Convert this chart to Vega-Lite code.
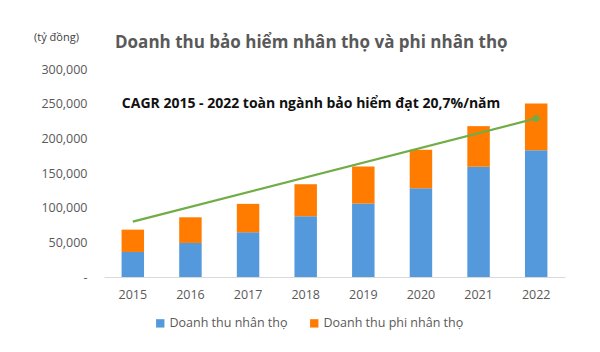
{
  "$schema": "https://vega.github.io/schema/vega-lite/v6.json",
  "width": 461,
  "height": 208,
  "autosize": {"type": "none"},
  "padding": {"left": 104, "top": 69, "right": 35, "bottom": 75},
  "background": "white",
  "config": {
    "font": "Open Sans",
    "view": {"stroke": null}
  },
  "title": {
    "text": "Doanh thu bảo hiểm nhân thọ và phi nhân thọ",
    "anchor": "start",
    "frame": "group",
    "dx": 11,
    "offset": -21,
    "fontSize": 17,
    "fontWeight": "bold",
    "color": "#595959",
    "font": "Open Sans"
  },
  "datasets": {
    "bars": [
      {"year": "2015", "type": "Doanh thu nhân thọ", "value": 36100},
      {"year": "2015", "type": "Doanh thu phi nhân thọ", "value": 32200},
      {"year": "2016", "type": "Doanh thu nhân thọ", "value": 49100},
      {"year": "2016", "type": "Doanh thu phi nhân thọ", "value": 37000},
      {"year": "2017", "type": "Doanh thu nhân thọ", "value": 64400},
      {"year": "2017", "type": "Doanh thu phi nhân thọ", "value": 41100},
      {"year": "2018", "type": "Doanh thu nhân thọ", "value": 87600},
      {"year": "2018", "type": "Doanh thu phi nhân thọ", "value": 46200},
      {"year": "2019", "type": "Doanh thu nhân thọ", "value": 105900},
      {"year": "2019", "type": "Doanh thu phi nhân thọ", "value": 53500},
      {"year": "2020", "type": "Doanh thu nhân thọ", "value": 128000},
      {"year": "2020", "type": "Doanh thu phi nhân thọ", "value": 55500},
      {"year": "2021", "type": "Doanh thu nhân thọ", "value": 159000},
      {"year": "2021", "type": "Doanh thu phi nhân thọ", "value": 58600},
      {"year": "2022", "type": "Doanh thu nhân thọ", "value": 182900},
      {"year": "2022", "type": "Doanh thu phi nhân thọ", "value": 67500}
    ],
    "trend": [
      {"year": "2015", "value": 79900},
      {"year": "2022", "value": 228700}
    ],
    "note": [
      {"year": "2015", "value": 250000, "label": "CAGR 2015 - 2022 toàn ngành bảo hiểm  đạt 20,7%/năm"}
    ]
  },
  "layer": [
    {
      "data": {"name": "bars"},
      "mark": {"type": "bar"},
      "encoding": {
        "x": {
          "field": "year",
          "type": "ordinal",
          "scale": {"paddingInner": 0.61, "paddingOuter": 0.305},
          "axis": {
            "title": null,
            "labelAngle": 0,
            "labelFontSize": 12.5,
            "labelColor": "#595959",
            "labelPadding": 11,
            "ticks": false,
            "domainColor": "#d9d9d9",
            "domainWidth": 1
          }
        },
        "y": {
          "field": "value",
          "type": "quantitative",
          "aggregate": "sum",
          "stack": "zero",
          "title": "(tỷ đồng)",
          "scale": {"domain": [0, 300000], "nice": false},
          "axis": {
            "values": [0, 50000, 100000, 150000, 200000, 250000, 300000],
            "labelExpr": "datum.value == 0 ? '-' : format(datum.value, ',')",
            "labelOverlap": false,
            "labelFontSize": 12.5,
            "labelColor": "#595959",
            "labelPadding": 17,
            "ticks": false,
            "domain": false,
            "grid": false,
            "titleAngle": 0,
            "titleX": -48,
            "titleY": -32,
            "titleAlign": "center",
            "titleBaseline": "middle",
            "titleFontSize": 11,
            "titleFontWeight": "normal",
            "titleColor": "#404040"
          }
        },
        "color": {
          "field": "type",
          "type": "nominal",
          "scale": {
            "domain": ["Doanh thu nhân thọ", "Doanh thu phi nhân thọ"],
            "range": ["#5599DD", "#FF7C00"]
          },
          "legend": {
            "title": null,
            "orient": "none",
            "direction": "horizontal",
            "legendX": 50,
            "legendY": 248,
            "symbolType": "square",
            "symbolSize": 70,
            "symbolStrokeWidth": 0,
            "labelFontSize": 12.5,
            "labelColor": "#595959",
            "labelOffset": 3,
            "columnPadding": 20
          }
        },
        "order": {"field": "type", "sort": "ascending"}
      }
    },
    {
      "data": {"name": "trend"},
      "mark": {"type": "line", "color": "#70AD47", "strokeWidth": 2.2},
      "encoding": {
        "x": {"field": "year", "type": "ordinal", "title": null,
          "axis": {
            "title": null,
            "labelAngle": 0,
            "labelFontSize": 12.5,
            "labelColor": "#595959",
            "labelPadding": 11,
            "ticks": false,
            "domainColor": "#d9d9d9",
            "domainWidth": 1
          }},
        "y": {"field": "value", "type": "quantitative", "title": "(tỷ đồng)",
          "axis": {
            "values": [0, 50000, 100000, 150000, 200000, 250000, 300000],
            "labelExpr": "datum.value == 0 ? '-' : format(datum.value, ',')",
            "labelOverlap": false,
            "labelFontSize": 12.5,
            "labelColor": "#595959",
            "labelPadding": 17,
            "ticks": false,
            "domain": false,
            "grid": false,
            "titleAngle": 0,
            "titleX": -48,
            "titleY": -32,
            "titleAlign": "center",
            "titleBaseline": "middle",
            "titleFontSize": 11,
            "titleFontWeight": "normal",
            "titleColor": "#404040"
          }}
      }
    },
    {
      "data": {"name": "trend"},
      "transform": [{"filter": "datum.year == '2022'"}],
      "mark": {"type": "point", "filled": true, "size": 45, "color": "#70AD47", "opacity": 1},
      "encoding": {
        "x": {"field": "year", "type": "ordinal", "title": null,
          "axis": {
            "title": null,
            "labelAngle": 0,
            "labelFontSize": 12.5,
            "labelColor": "#595959",
            "labelPadding": 11,
            "ticks": false,
            "domainColor": "#d9d9d9",
            "domainWidth": 1
          }},
        "y": {"field": "value", "type": "quantitative", "title": "(tỷ đồng)",
          "axis": {
            "values": [0, 50000, 100000, 150000, 200000, 250000, 300000],
            "labelExpr": "datum.value == 0 ? '-' : format(datum.value, ',')",
            "labelOverlap": false,
            "labelFontSize": 12.5,
            "labelColor": "#595959",
            "labelPadding": 17,
            "ticks": false,
            "domain": false,
            "grid": false,
            "titleAngle": 0,
            "titleX": -48,
            "titleY": -32,
            "titleAlign": "center",
            "titleBaseline": "middle",
            "titleFontSize": 11,
            "titleFontWeight": "normal",
            "titleColor": "#404040"
          }}
      }
    },
    {
      "data": {"name": "note"},
      "mark": {"type": "text", "align": "left", "baseline": "middle", "fontSize": 14, "fontWeight": "bold", "color": "#111111", "dx": -11},
      "encoding": {
        "x": {"field": "year", "type": "ordinal", "title": null,
          "axis": {
            "title": null,
            "labelAngle": 0,
            "labelFontSize": 12.5,
            "labelColor": "#595959",
            "labelPadding": 11,
            "ticks": false,
            "domainColor": "#d9d9d9",
            "domainWidth": 1
          }},
        "y": {"field": "value", "type": "quantitative", "title": "(tỷ đồng)",
          "axis": {
            "values": [0, 50000, 100000, 150000, 200000, 250000, 300000],
            "labelExpr": "datum.value == 0 ? '-' : format(datum.value, ',')",
            "labelOverlap": false,
            "labelFontSize": 12.5,
            "labelColor": "#595959",
            "labelPadding": 17,
            "ticks": false,
            "domain": false,
            "grid": false,
            "titleAngle": 0,
            "titleX": -48,
            "titleY": -32,
            "titleAlign": "center",
            "titleBaseline": "middle",
            "titleFontSize": 11,
            "titleFontWeight": "normal",
            "titleColor": "#404040"
          }},
        "text": {"field": "label"}
      }
    }
  ]
}
